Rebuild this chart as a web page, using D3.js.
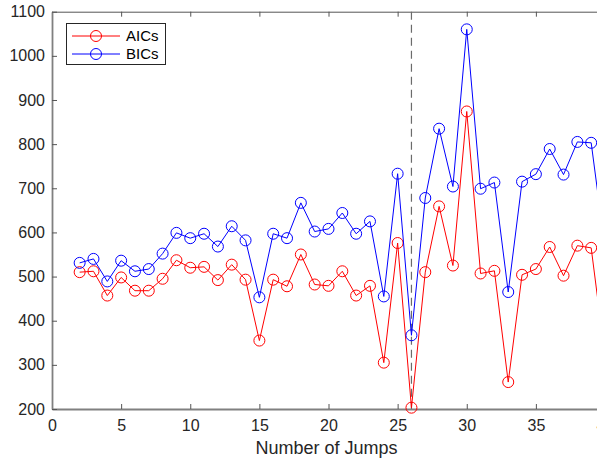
<!DOCTYPE html>
<html>
<head>
<meta charset="utf-8">
<script src="https://cdn.jsdelivr.net/npm/d3@7"></script>
<style>
  body { margin: 0; background: #fff; }
  svg { display: block; font-family: "Liberation Sans", Arial, sans-serif; }
</style>
</head>
<body>
<div id="app"></div>
<script>
// number of jumps (x) and the two criteria
const jumps = [2, 3, 4, 5, 6, 7, 8, 9, 10, 11, 12, 13, 14, 15, 16, 17, 18, 19, 20, 21,
  22, 23, 24, 25, 26, 27, 28, 29, 30, 31, 32, 33, 34, 35, 36, 37, 38, 39, 40]
const aics = [510, 512, 457, 498, 468, 468, 495, 537, 520, 522, 492, 527, 493, 355, 493, 478, 550, 482, 479, 512,
  457, 479, 305, 576, 203, 510, 659, 525, 874, 507, 513, 261, 504, 517, 567, 502, 570, 565, 320]
const bics = [531, 540, 489, 536, 512, 517, 552, 599, 587, 597, 568, 614, 582, 453, 597, 587, 667, 602, 608, 644,
  597, 625, 455, 733, 367, 678, 835, 704, 1060, 699, 713, 465, 715, 732, 789, 731, 805, 803, 565]
const xTicks = [0, 5, 10, 15, 20, 25, 30, 35, 40]
const yTicks = [200, 300, 400, 500, 600, 700, 800, 900, 1000, 1100]
const cutoff = 26

const width = 597
const height = 461
const padLeft = 52
const padTop = 11.7
const axisBottom = 409
const axisRight = 605   // the axis box runs past the picture edge

const svg = d3.select('#app')
  .append('svg')
  .attr('width', width)
  .attr('height', height)

const x = d3.scaleLinear().domain([0, 40]).range([padLeft, axisRight])
const y = d3.scaleLinear().domain([200, 1100]).range([axisBottom, padTop])

// axes, ticks pointing inward like matlab
const styleAxis = (g, col, w) => {
  g.select('.domain').attr('stroke', col).attr('stroke-width', w)
  g.selectAll('.tick line').attr('stroke', '#555')
  g.selectAll('.tick text').attr('fill', '#262626').style('font-size', '16px')
}

svg.append('g')
  .attr('transform', `translate(0, ${padTop})`)
  .call(d3.axisTop(x).tickValues(xTicks).tickSizeInner(-5).tickSizeOuter(0).tickFormat(''))
  .call(styleAxis, '#555', 1)

svg.append('g')
  .attr('transform', `translate(${axisRight}, 0)`)
  .call(d3.axisRight(y).tickValues(yTicks).tickSizeInner(-5).tickSizeOuter(0).tickFormat(''))
  .call(styleAxis, '#555', 1)

svg.append('g')
  .attr('transform', `translate(0, ${axisBottom})`)
  .call(d3.axisBottom(x).tickValues(xTicks).tickSizeInner(-5).tickSizeOuter(0).tickPadding(11).tickFormat(d3.format('d')))
  .call(styleAxis, '#808080', 1.8)

svg.append('g')
  .attr('transform', `translate(${padLeft}, 0)`)
  .call(d3.axisLeft(y).tickValues(yTicks).tickSizeInner(-5).tickSizeOuter(0).tickPadding(7).tickFormat(d3.format('d')))
  .call(styleAxis, '#808080', 1.8)

svg.append('text')
  .attr('x', (padLeft + axisRight) / 2 - 2)
  .attr('y', 454)
  .attr('text-anchor', 'middle')
  .attr('fill', '#262626')
  .style('font-size', '18px')
  .text('Number of Jumps')

// dashed marker at the chosen number of jumps
svg.append('line')
  .attr('x1', x(cutoff)).attr('x2', x(cutoff))
  .attr('y1', padTop).attr('y2', axisBottom)
  .attr('stroke', '#6b6b6b')
  .attr('stroke-width', 1.2)
  .attr('stroke-dasharray', '8,5')

const line = d3.line().x(d => x(d[0])).y(d => y(d[1]))

const drawSeries = (vals, color) => {
  const pts = jumps.map((j, i) => [j, vals[i]])
  svg.append('path')
    .datum(pts)
    .attr('d', line)
    .attr('fill', 'none')
    .attr('stroke', color)
    .attr('stroke-width', 1)
  svg.append('g')
    .selectAll('circle')
    .data(pts)
    .enter()
    .append('circle')
    .attr('cx', d => x(d[0]))
    .attr('cy', d => y(d[1]))
    .attr('r', 5.5)
    .attr('fill', 'none')
    .attr('stroke', color)
    .attr('stroke-width', 1)
}

drawSeries(aics, '#ff0000')
drawSeries(bics, '#0000ff')

// legend
const legend = svg.append('g')
legend.append('rect')
  .attr('x', 66.5).attr('y', 23.5)
  .attr('width', 99).attr('height', 41)
  .attr('fill', '#fff')
  .attr('stroke', '#262626')
  .attr('stroke-width', 1)

const items = [['AICs', '#ff0000'], ['BICs', '#0000ff']]
items.forEach((it, i) => {
  const cy = 36 + i * 18
  legend.append('line')
    .attr('x1', 72).attr('x2', 120)
    .attr('y1', cy).attr('y2', cy)
    .attr('stroke', it[1])
  legend.append('circle')
    .attr('cx', 96).attr('cy', cy).attr('r', 5.5)
    .attr('fill', 'none').attr('stroke', it[1])
  legend.append('text')
    .attr('x', 126).attr('y', cy + 5)
    .attr('fill', '#000')
    .style('font-size', '15px')
    .text(it[0])
})
</script>
</body>
</html>
